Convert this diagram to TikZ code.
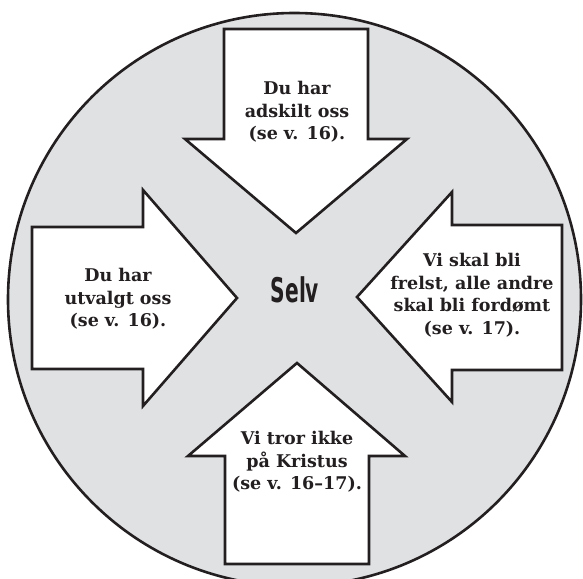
\documentclass[tikz,border=0pt]{standalone}
\usepackage{fontspec}
\setmainfont{DejaVu Serif}
\newfontfamily\lblfont{DejaVu Serif}
\newfontfamily\selvfont{DejaVu Sans Condensed}[FakeStretch=0.66]
\definecolor{discgrey}{HTML}{E0E1E3}
\definecolor{ink}{HTML}{231F20}
\begin{document}
\begin{tikzpicture}[x=1pt,y=-1pt,
  arrowshape/.style={draw=ink,fill=white,line width=2.6pt,line join=miter},
  lbl/.style={font=\lblfont\fontsize{17.5}{22.5}\selectfont\bfseries,text=ink,align=center,inner sep=0pt}]
\useasboundingbox (0,0) rectangle (583,578);
\begin{scope}
\clip (0,0) rectangle (583,578);
\node[circle,draw=ink,fill=discgrey,line width=2.6pt,minimum size=573pt,inner sep=0pt] (disc) at (294.5,299.5) {};
\end{scope}
% top arrow (pointing down)
\draw[arrowshape] (224,29) -- (368,29) -- (368,139) -- (407,139) -- (296,233) -- (185,139) -- (224,139) -- cycle;
% bottom arrow (pointing up)
\draw[arrowshape] (225,564) -- (369,564) -- (369,456) -- (405,456) -- (297,363) -- (188,456) -- (225,456) -- cycle;
% left arrow (pointing right)
\draw[arrowshape] (32,227) -- (143,227) -- (143,190) -- (237,298) -- (143,406) -- (143,369) -- (32,369) -- cycle;
% right arrow (pointing left)
\draw[arrowshape] (562,225) -- (452,225) -- (452,192) -- (357,297) -- (452,402) -- (452,370) -- (562,370) -- cycle;
\node[lbl] (ttop) at (297,112) {Du har\\adskilt oss\\(se v. 16).};
\node[lbl] (tleft) at (118,299) {Du har\\utvalgt oss\\(se v. 16).};
\node[lbl] (tright) at (472,295) {Vi skal bli\\frelst, alle andre\\skal bli fordømt\\(se v. 17).};
\node[lbl] (tbottom) at (297,462) {Vi tror ikke\\på Kristus\\(se v. 16–17).};
\node[font=\selvfont\fontsize{34}{34}\selectfont\bfseries,text=ink,inner sep=0pt] (selv) at (295,290) {Selv};
\end{tikzpicture}
\end{document}
